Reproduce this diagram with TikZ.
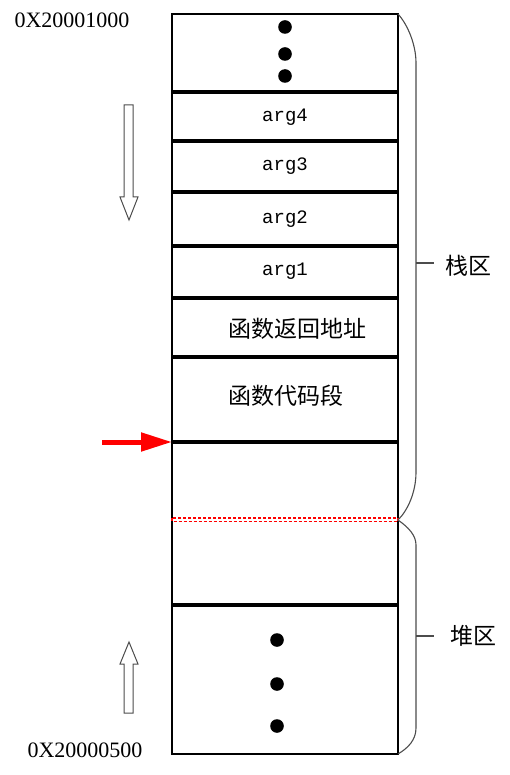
\documentclass[tikz,border=0pt]{standalone}
\usepackage{fontspec}
\setmainfont{Liberation Serif}
\newfontfamily\cjk{Noto Sans CJK SC}
\newfontfamily\mymono{Liberation Mono}
\usetikzlibrary{arrows.meta}
\begin{document}
\begin{tikzpicture}[x=1pt,y=-1pt,
  sepline/.style={line width=3.5pt},
  argtxt/.style={font=\mymono\fontsize{19}{19}\selectfont, inner sep=0pt},
  cjktxt/.style={font=\cjk\fontsize{23}{23}\selectfont, inner sep=0pt},
  addrtxt/.style={font=\fontsize{22}{22}\selectfont, inner sep=0pt},
  bracepath/.style={draw=black!70, line width=1.1pt},
  hollow/.style={draw=black!70, line width=1pt, fill=white},
  memdot/.style={fill=black}]
\useasboundingbox (0,0) rectangle (509,775);
% memory column
\draw[line width=1.3pt] (172,14) rectangle (398,754);
\foreach \y in {92,141,192,246,298,357,442,605}
  \draw[sepline] (172,\y) -- (398,\y);
\draw[red, line width=1.4pt, dash pattern=on 3pt off 2pt] (172,518) rectangle (398,521.5);
% dots
\foreach \y in {27,54,76} \fill[memdot] (285,\y) circle (6.8);
\foreach \y in {640,684,726} \fill[memdot] (277,\y) circle (6.8);
% texts in cells
\node[argtxt] (a4) at (285,117) {arg4};
\node[argtxt] (a3) at (285,166) {arg3};
\node[argtxt] (a2) at (285,219) {arg2};
\node[argtxt] (a1) at (285,271) {arg1};
\node[cjktxt, anchor=west] (ret) at (228,329) {函数返回地址};
\node[cjktxt, anchor=west] (code) at (228,396) {函数代码段};
% addresses
\node[addrtxt] (top) at (72,20) {0X20001000};
\node[addrtxt] (bot) at (85,750) {0X20000500};
% hollow arrows
\draw[hollow] (124,105) -- (133,105) -- (133,197) -- (138,197) -- (129,220) -- (120,197) -- (124,197) -- cycle;
\draw[hollow] (124,713) -- (133,713) -- (133,664) -- (138,664) -- (129,642) -- (120,664) -- (124,664) -- cycle;
% red pointer
\coordinate (rs) at (102,442);
\coordinate (re) at (172,442);
\draw[red, line width=5pt, -{Triangle[length=31pt,width=18pt]}] (rs) -- (re);
% braces
\draw[bracepath] (398,14) .. controls (408,25) and (416,45) .. (416,63) -- (416,472) .. controls (416,492) and (408,510) .. (398,520);
\draw[bracepath] (398,520) .. controls (408,527) and (416,535) .. (416,545) -- (416,728) .. controls (416,740) and (408,748) .. (398,754);
\node[cjktxt, anchor=west] (stack) at (445,266) {栈区};
\node[cjktxt, anchor=west] (heap) at (450,636) {堆区};
\coordinate (st) at (416,263);
\coordinate (ht) at (416,636);
\draw[bracepath] (st) -- +(18,0);
\draw[bracepath] (ht) -- +(18,0);
\end{tikzpicture}
\end{document}
